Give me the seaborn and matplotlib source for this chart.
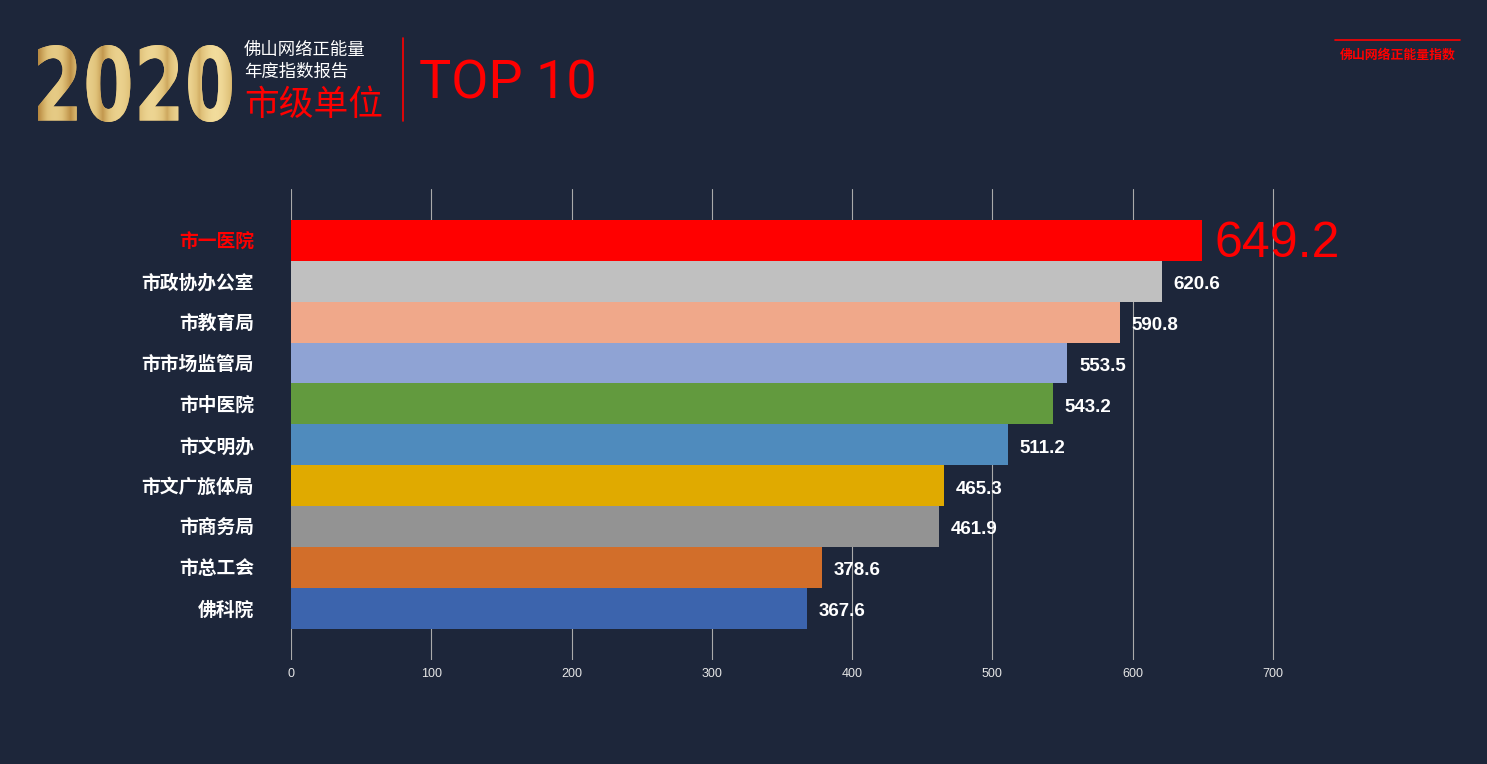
import matplotlib
matplotlib.use("Agg")
import matplotlib.pyplot as plt
import seaborn as sns
import pandas as pd
import numpy as np
from matplotlib.textpath import TextPath
from matplotlib.patches import PathPatch
from matplotlib.font_manager import FontProperties
from matplotlib.transforms import Affine2D

units = ["市一医院", "市政协办公室", "市教育局", "市市场监管局", "市中医院",
         "市文明办", "市文广旅体局", "市商务局", "市总工会", "佛科院"]
scores = [649.2, 620.6, 590.8, 553.5, 543.2, 511.2, 465.3, 461.9, 378.6, 367.6]
bar_colors = ["#ff0000", "#c0c0c0", "#f0a88a", "#8fa3d4", "#629a3e",
              "#4f8bbd", "#e0aa00", "#939393", "#d26e2a", "#3c64ad"]
ticks = [0, 100, 200, 300, 400, 500, 600, 700]

bg = "#1d263a"
red = "#ff0000"

sns.set_theme(style="dark")
plt.rcParams["font.family"] = ["Liberation Sans", "Noto Sans CJK SC", "DejaVu Sans"]

df = pd.DataFrame({"unit": units, "score": scores})

xmax = 703
px_per_unit = (1273 - 291) / 700
fig = plt.figure(figsize=(14.87, 7.64), dpi=100, facecolor=bg)
ax = fig.add_axes([291 / 1487, 1 - 660 / 764, xmax * px_per_unit / 1487, (660 - 189) / 764])
ax.set_facecolor(bg)

sns.barplot(data=df, x="score", y="unit", hue="unit", palette=bar_colors,
            orient="h", width=1.0, legend=False, ax=ax, saturation=1,
            linewidth=0, edgecolor="none", zorder=3)

ax.set_xlim(0, xmax)
ax.set_ylim(10.27, -1.26)
ax.set_xticks(ticks)
ax.set_xticklabels([str(t) for t in ticks], color="#e6e6e6", fontsize=9)
ax.grid(axis="x", color="#aaaaaa", linewidth=0.8, zorder=0)
ax.grid(axis="y", visible=False)
ax.tick_params(axis="x", length=0, pad=6)
ax.tick_params(axis="y", length=0, pad=26.5)
for s in ax.spines.values():
    s.set_visible(False)
ax.set_xlabel("")
ax.set_ylabel("")

for i, lab in enumerate(ax.get_yticklabels()):
    lab.set_fontsize(13.5)
    lab.set_fontweight("bold")
    lab.set_color(red if i == 0 else "white")

for i, v in enumerate(scores):
    if i == 0:
        ax.annotate(f"{v}", (v, i), xytext=(9, -2.5), textcoords="offset points",
                    va="center", ha="left", color=red, fontsize=36, zorder=5)
    else:
        ax.annotate(f"{v}", (v, i), xytext=(8.5, -2.5), textcoords="offset points",
                    va="center", ha="left", color="white", fontsize=13.5,
                    fontweight="bold", zorder=5)

# header overlay in pixel coordinates
hx = fig.add_axes([0, 0, 1, 1], facecolor="none")
hx.axis("off")

tp = TextPath((0, 0), "2020", size=100, prop=FontProperties(family="DejaVu Sans", weight="bold"))
ext = tp.get_extents()
sx = (232 - 38) / ext.width
sy = (122 - 45) / ext.height
tr = Affine2D().translate(-ext.x0, -ext.y0).scale(sx, -sy).translate(38, 122) + hx.transData
patch = PathPatch(tp, transform=tr, facecolor="#d8b36a", edgecolor="none")
hx.add_patch(patch)
grad = np.linspace(0, 1, 200).reshape(1, -1)
grad = np.abs(np.sin(grad * np.pi * 6)) * 0.6 + np.linspace(0, 0.4, 200)
gcmap = matplotlib.colors.LinearSegmentedColormap.from_list("gold", ["#b8893f", "#e0c27a", "#f2dc9c"])
im = hx.imshow(np.vstack([grad] * 10), extent=(38, 232, 122, 45), cmap=gcmap, aspect="auto", zorder=3)
im.set_clip_path(patch)
hx.set_xlim(0, 1487)
hx.set_ylim(764, 0)

hx.text(244, 50, "佛山网络正能量", color="white", fontsize=12.5, va="center", ha="left")
hx.text(244, 72, "年度指数报告", color="white", fontsize=12.5, va="center", ha="left")
hx.text(244, 106, "市级单位", color=red, fontsize=25, va="center", ha="left")
hx.plot([403, 403], [38, 121], color=red, linewidth=1.2)
hx.text(419, 84, "TOP 10", color=red, fontsize=39, va="center", ha="left",
        family=["Roboto", "DejaVu Sans"], fontweight="normal")
hx.plot([1335, 1460], [40, 40], color=red, linewidth=1.2)
hx.text(1398, 55, "佛山网络正能量指数", color=red, fontsize=9.3, fontweight="bold",
        va="center", ha="center")

fig.savefig("out.png", dpi=100, facecolor=bg)
